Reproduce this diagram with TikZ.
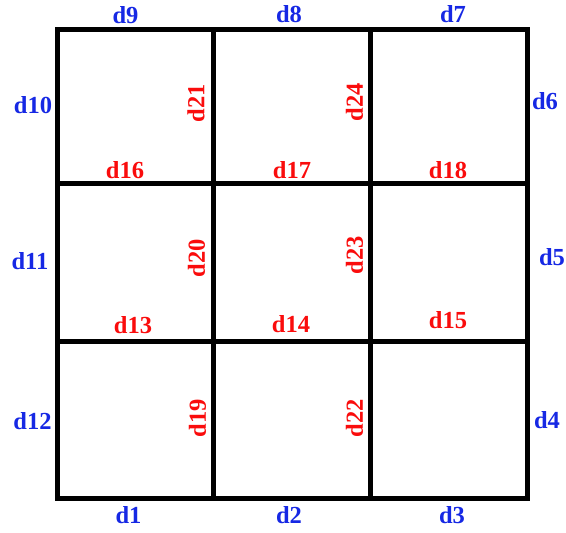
\documentclass[tikz,border=0pt]{standalone}
\usepackage{fontspec}
\setmainfont{Liberation Serif}
\usepackage{tikz}
\usetikzlibrary{positioning}

\definecolor{outblue}{RGB}{22,40,228}
\definecolor{inred}{RGB}{250,12,12}

\begin{document}
\begin{tikzpicture}[
    x=1pt, y=-1pt,
    lbl/.style={inner sep=0pt, font=\fontsize{24.5}{27}\selectfont\bfseries},
    outer/.style={lbl, text=outblue},
    inner/.style={lbl, text=inred},
    vinner/.style={inner, rotate=90},
    wall/.style={line width=5pt, line cap=rect, black}]
  \useasboundingbox (0,0) rectangle (566,533);
  % grid corners
  \foreach \x [count=\i] in {57, 213.5, 370, 527.5} {
    \foreach \y [count=\j] in {29.5, 183, 341.5, 498.5} {
      \coordinate (p\i\j) at (\x,\y);
    }
  }
  \foreach \k in {1,...,4} {
    \draw[wall] (p\k1) -- (p\k4);
    \draw[wall] (p1\k) -- (p4\k);
  }
  % outer labels
  \node[outer] (d1) at (128.5,515) {d1};
  \node[outer] (d2) at (289,515) {d2};
  \node[outer] (d3) at (452,515) {d3};
  \node[outer] (d4) at (547,420) {d4};
  \node[outer] (d5) at (552,257) {d5};
  \node[outer] (d6) at (545,101) {d6};
  \node[outer] (d7) at (453,14) {d7};
  \node[outer] (d8) at (289,14) {d8};
  \node[outer] (d9) at (125.5,15) {d9};
  \node[outer] (d10) at (33,105) {d10};
  \node[outer] (d11) at (30,261) {d11};
  \node[outer] (d12) at (32.5,421) {d12};
  % inner labels
  \node[inner] (d13) at (133,325) {d13};
  \node[inner] (d14) at (291,324) {d14};
  \node[inner] (d15) at (448,320) {d15};
  \node[inner] (d16) at (125,170) {d16};
  \node[inner] (d17) at (292,170) {d17};
  \node[inner] (d18) at (448,170) {d18};
  \node[vinner] (d19) at (197.5,418) {d19};
  \node[vinner] (d20) at (196.5,258.5) {d20};
  \node[vinner] (d21) at (196,103) {d21};
  \node[vinner] (d22) at (354.5,418) {d22};
  \node[vinner] (d23) at (354.5,255) {d23};
  \node[vinner] (d24) at (354.5,102) {d24};
\end{tikzpicture}
\end{document}
